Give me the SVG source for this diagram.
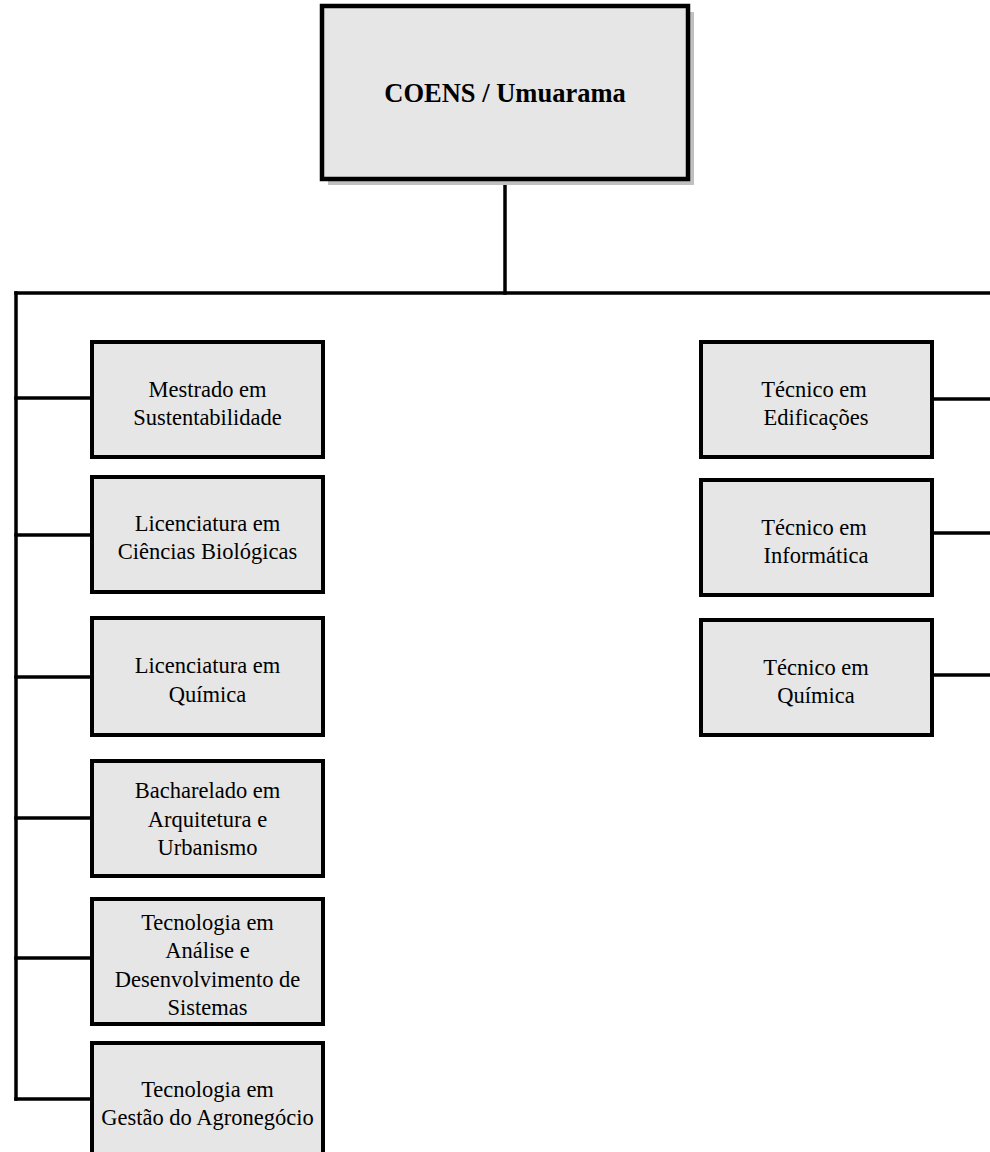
<svg xmlns="http://www.w3.org/2000/svg" width="990" height="1152" viewBox="0 0 990 1152">
<style>
.box{fill:#e6e6e6;stroke:#000;stroke-width:4}
.shadow{fill:#c0c0c0}
.t{font-family:"Liberation Serif","Times New Roman",serif;font-size:22.5px;fill:#000;text-anchor:middle}
.title{font-family:"Liberation Serif","Times New Roman",serif;font-size:26.5px;font-weight:bold;fill:#000;text-anchor:middle}
.c{fill:none;stroke:#000;stroke-width:3.5;stroke-linecap:square}
</style>
<rect width="990" height="1152" fill="#fff"/>
<g id="connectors">
<line class="c" x1="505" y1="179" x2="505" y2="293"/>
<line class="c" x1="16" y1="293" x2="992" y2="293"/>
<line class="c" x1="16" y1="293" x2="16" y2="1099"/>
<line class="c" x1="16" y1="398" x2="92" y2="398"/>
<line class="c" x1="16" y1="535" x2="92" y2="535"/>
<line class="c" x1="16" y1="677" x2="92" y2="677"/>
<line class="c" x1="16" y1="818" x2="92" y2="818"/>
<line class="c" x1="16" y1="958" x2="92" y2="958"/>
<line class="c" x1="16" y1="1099" x2="92" y2="1099"/>
<line class="c" x1="932" y1="399" x2="992" y2="399"/>
<line class="c" x1="932" y1="533" x2="992" y2="533"/>
<line class="c" x1="932" y1="675" x2="992" y2="675"/>
</g>
<g id="root">
<rect class="shadow" x="328" y="12" width="366" height="173"/>
<rect class="box" x="322" y="6" width="366" height="173" style="stroke-width:4.5"/>
<text class="title" x="505" y="102">COENS / Umuarama</text>
</g>
<g id="mestrado">
<rect class="box" x="92" y="342" width="231" height="115"/>
<text class="t" x="207.5" y="397">Mestrado em</text>
<text class="t" x="207.5" y="425">Sustentabilidade</text>
</g>
<g id="lic-bio">
<rect class="box" x="92" y="477" width="231" height="115"/>
<text class="t" x="207.5" y="531">Licenciatura em</text>
<text class="t" x="207.5" y="559">Ciências Biológicas</text>
</g>
<g id="lic-quim">
<rect class="box" x="92" y="618" width="231" height="117"/>
<text class="t" x="207.5" y="673">Licenciatura em</text>
<text class="t" x="207.5" y="701.5">Química</text>
</g>
<g id="bach-arq">
<rect class="box" x="92" y="761" width="231" height="115"/>
<text class="t" x="207.5" y="798">Bacharelado em</text>
<text class="t" x="207.5" y="826.5">Arquitetura e</text>
<text class="t" x="207.5" y="855">Urbanismo</text>
</g>
<g id="tec-ads">
<rect class="box" x="92" y="899" width="231" height="125"/>
<text class="t" x="207.5" y="930">Tecnologia em</text>
<text class="t" x="207.5" y="958">Análise e</text>
<text class="t" x="207.5" y="987">Desenvolvimento de</text>
<text class="t" x="207.5" y="1015">Sistemas</text>
</g>
<g id="tec-agro">
<rect class="box" x="92" y="1043" width="231" height="130"/>
<text class="t" x="207.5" y="1097">Tecnologia em</text>
<text class="t" x="207.5" y="1125">Gestão do Agronegócio</text>
</g>
<g id="tec-edif">
<rect class="box" x="701" y="342" width="231" height="115"/>
<text class="t" x="814" y="396.5">Técnico em</text>
<text class="t" x="816" y="424.5">Edificações</text>
</g>
<g id="tec-info">
<rect class="box" x="701" y="480" width="231" height="115"/>
<text class="t" x="814" y="534.5">Técnico em</text>
<text class="t" x="816" y="562.5">Informática</text>
</g>
<g id="tec-quim">
<rect class="box" x="701" y="620" width="231" height="115"/>
<text class="t" x="816" y="674.5">Técnico em</text>
<text class="t" x="816" y="702.5">Química</text>
</g>
</svg>
